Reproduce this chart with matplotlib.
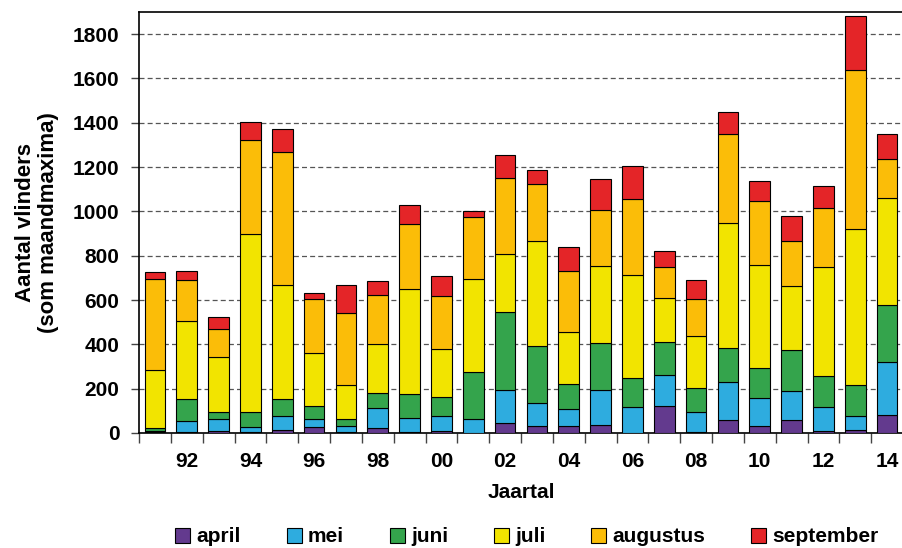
import matplotlib
matplotlib.use("Agg")
import matplotlib.pyplot as plt
import numpy as np

years = list(range(1991, 2015))
april = [3, 5, 9, 3, 14, 29, 3, 21, 5, 9, 0, 44, 30, 30, 36, 0, 120, 3, 60, 32, 57, 9, 12, 81]
mei = [5, 51, 56, 24, 64, 34, 27, 90, 61, 69, 65, 149, 105, 80, 157, 116, 140, 90, 169, 127, 131, 110, 65, 238]
juni = [13, 96, 31, 69, 74, 57, 33, 69, 108, 84, 210, 351, 259, 110, 212, 134, 152, 110, 156, 136, 186, 140, 140, 260]
juli = [265, 353, 247, 803, 517, 239, 152, 223, 474, 218, 421, 265, 471, 236, 347, 464, 199, 236, 561, 462, 291, 488, 702, 480]
augustus = [409, 185, 125, 423, 599, 244, 326, 220, 296, 238, 280, 342, 261, 273, 253, 343, 138, 166, 402, 288, 200, 267, 717, 177]
september = [31, 39, 54, 80, 102, 29, 128, 64, 85, 92, 24, 102, 62, 112, 141, 148, 74, 85, 102, 91, 114, 102, 248, 112]

series_names = ["april", "mei", "juni", "juli", "augustus", "september"]
series_values = [april, mei, juni, juli, augustus, september]
colors = ["#633A8E", "#2EACDF", "#34A44C", "#F2E400", "#FBBD08", "#E42528"]

label_years = [1992, 1994, 1996, 1998, 2000, 2002, 2004, 2006, 2008, 2010, 2012, 2014]
xtick_labels = ["92", "94", "96", "98", "00", "02", "04", "06", "08", "10", "12", "14"]
yticks = [0, 200, 400, 600, 800, 1000, 1200, 1400, 1600, 1800]

plt.rcParams['font.family'] = ['Liberation Sans', 'DejaVu Sans']
plt.rcParams['font.weight'] = 'bold'

fig = plt.figure(figsize=(9.03, 5.48), dpi=100)
ax = fig.add_axes([139/903, 1-433/548, (903-139)/903, (433-12)/548])

x = np.array(years)
bottom = np.zeros(len(years))
handles = []
for name, vals, c in zip(series_names, series_values, colors):
    v = np.array(vals, dtype=float)
    b = ax.bar(x, v, width=0.65, bottom=bottom, color=c, edgecolor='black',
               linewidth=0.8, label=name, zorder=3)
    bottom += v
    handles.append(b)

ax.set_xlim(1990.5, 2014.5)
ax.set_ylim(0, 1900)
ax.set_yticks(yticks)
ax.set_yticklabels([str(t) for t in yticks], fontsize=15, fontweight='bold')

ax.set_xticks(np.arange(1990.5, 2014.6, 1.0))
ax.set_xticklabels([])
ax.set_xticks(label_years, minor=True)
ax.set_xticklabels(xtick_labels, minor=True, fontsize=15, fontweight='bold')
ax.tick_params(axis='x', which='major', direction='out', length=7, width=1, color='#444444')
ax.tick_params(axis='x', which='minor', length=0, pad=14)
ax.tick_params(axis='y', direction='out', length=6, width=1, color='#444444', pad=8)

ax.yaxis.grid(True, linestyle=(0, (4, 2.5)), color='#555555', linewidth=0.9, zorder=0)
ax.set_axisbelow(True)
for s in ['left', 'top', 'bottom']:
    ax.spines[s].set_linewidth(1.2)
    ax.spines[s].set_color('black')
ax.spines['right'].set_visible(False)

ax.set_xlabel("Jaartal", fontsize=15, fontweight='bold', labelpad=8)
ax.set_ylabel("Aantal vlinders\n(som maandmaxima)", fontsize=16, fontweight='bold',
              labelpad=10, linespacing=1.1)

fig.legend(handles=handles, labels=series_names, loc='center', ncol=6,
           bbox_to_anchor=(527/903, 1-537/548), frameon=False,
           prop={'size': 15, 'weight': 'bold'}, handlelength=0.72, handleheight=0.72,
           handletextpad=0.3, columnspacing=2.2, borderpad=0)

fig.savefig("out.png", dpi=100)
